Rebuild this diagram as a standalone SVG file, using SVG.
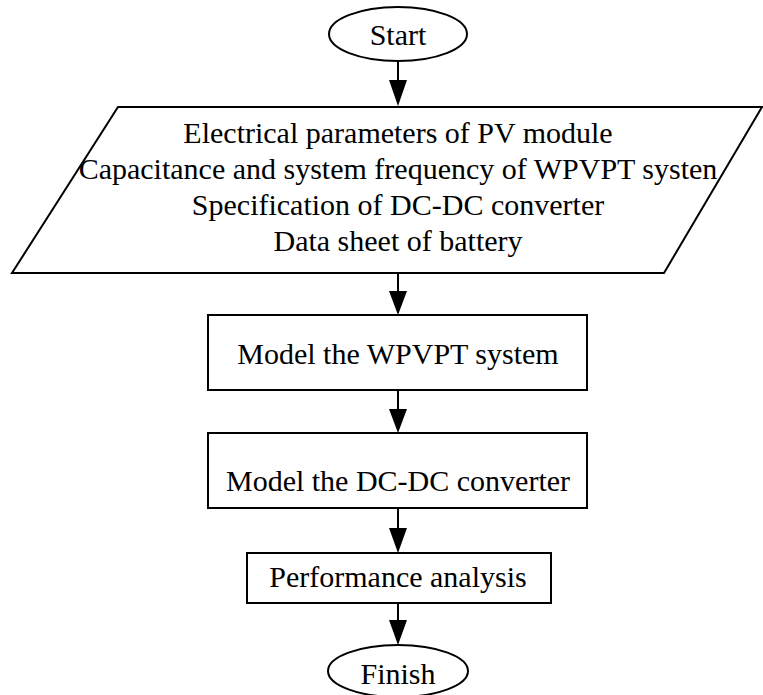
<svg xmlns="http://www.w3.org/2000/svg" width="763" height="695" viewBox="0 0 763 695">
  <style>
    .shape { fill: #ffffff; stroke: #000000; stroke-width: 2; }
    .label { font-family: "Liberation Serif", "Times New Roman", serif; font-size: 30px; fill: #000000; text-anchor: middle; }
    .link { stroke: #000000; stroke-width: 2; fill: none; }
    .head { fill: #000000; }
  </style>
  <rect width="763" height="695" fill="#ffffff"/>

  <g id="connectors">
    <line class="link" x1="398" y1="61" x2="398" y2="82"/>
    <line class="link" x1="398" y1="273" x2="398" y2="294"/>
    <line class="link" x1="398" y1="390" x2="398" y2="411"/>
    <line class="link" x1="398" y1="508" x2="398" y2="529"/>
    <line class="link" x1="398" y1="603" x2="398" y2="622"/>
    <path class="head" d="M389,80 L407,80 L398,106 Z"/>
    <path class="head" d="M389,291 L407,291 L398,315 Z"/>
    <path class="head" d="M389,409 L407,409 L398,433 Z"/>
    <path class="head" d="M389,528 L407,528 L398,553 Z"/>
    <path class="head" d="M389,620 L407,620 L398,645 Z"/>
  </g>

  <g id="start">
    <ellipse class="shape" cx="398" cy="34" rx="69" ry="27"/>
    <text class="label" x="398" y="45">Start</text>
  </g>

  <g id="inputs">
    <polygon class="shape" points="118,107 762,107 664,273 12,273"/>
    <text class="label" x="398" y="143">Electrical parameters of PV module</text>
    <text class="label" x="398" y="179">Capacitance and system frequency of WPVPT systen</text>
    <text class="label" x="398" y="215">Specification of DC-DC converter</text>
    <text class="label" x="398" y="251">Data sheet of battery</text>
  </g>

  <g id="model-wpvpt">
    <rect class="shape" x="208" y="315" width="379" height="75"/>
    <text class="label" x="398" y="364">Model the WPVPT system</text>
  </g>

  <g id="model-converter">
    <rect class="shape" x="208" y="433" width="379" height="75"/>
    <text class="label" x="398" y="491">Model the DC-DC converter</text>
  </g>

  <g id="performance">
    <rect class="shape" x="247" y="553" width="304" height="50"/>
    <text class="label" x="398" y="587">Performance analysis</text>
  </g>

  <g id="finish">
    <ellipse class="shape" cx="398" cy="671" rx="70" ry="26"/>
    <text class="label" x="398" y="684">Finish</text>
  </g>
</svg>
